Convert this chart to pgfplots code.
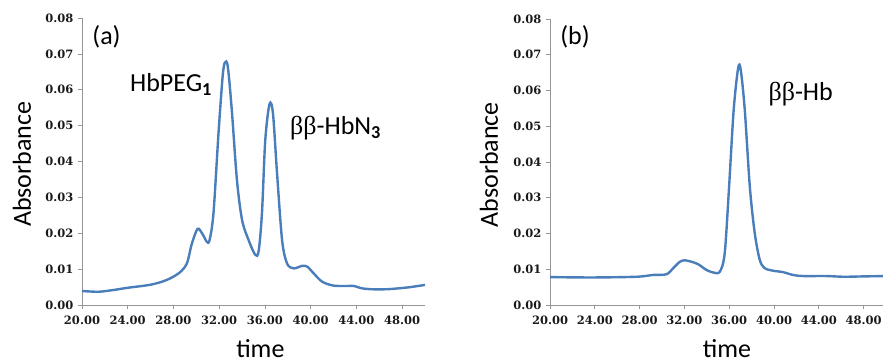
\documentclass[border=0pt]{standalone}
\usepackage{pgfplots}
\pgfplotsset{compat=1.18}
\usepackage{fontspec}
\setmainfont{Carlito}
\newfontfamily\tickfont{DejaVu Serif}
\newfontfamily\betafont{Liberation Serif}
\definecolor{lineblue}{RGB}{74,126,187}
\definecolor{axgray}{RGB}{150,150,150}
\tikzset{lbl/.style={font=\fontsize{26}{28}\selectfont}}

\pgfplotstableread{
x y
20.0 0.0039
21.5 0.0037
23.0 0.0043
24.0 0.0048
25.9 0.0056
27.1 0.0066
28.0 0.0079
28.7 0.0095
29.2 0.0118
29.6 0.0170
30.1 0.0212
30.5 0.0200
30.9 0.0177
31.15 0.0180
31.5 0.0256
31.94 0.0479
32.3 0.0637
32.5 0.0676
32.75 0.0665
33.1 0.0544
33.55 0.0349
34.0 0.0237
34.57 0.0181
35.15 0.0140
35.45 0.0150
35.74 0.0256
36.03 0.0460
36.4 0.0560
36.7 0.0535
37.06 0.0367
37.5 0.0181
37.93 0.0116
38.5 0.0102
39.25 0.0109
39.7 0.0107
40.27 0.0088
41.0 0.0065
42.0 0.0054
43.2 0.0053
43.8 0.0053
44.4 0.0047
45.25 0.0044
46.7 0.0044
48.5 0.0049
50.0 0.0056
}\dataA

\pgfplotstableread{
x y
20.0 0.0078
23.86 0.0077
27.73 0.0079
29.2 0.0084
30.4 0.0086
31.0 0.0103
31.6 0.0121
32.04 0.0125
32.63 0.0121
33.23 0.0114
33.97 0.0098
34.57 0.0091
35.16 0.0093
35.6 0.0145
35.99 0.0331
36.4 0.0546
36.8 0.0663
37.03 0.0658
37.39 0.0546
37.84 0.0331
38.28 0.0201
38.73 0.0126
39.17 0.0103
39.9 0.0096
40.8 0.0092
41.7 0.0084
42.6 0.0081
44.67 0.0081
46.2 0.0079
48.0 0.0080
50.0 0.0081
}\dataB

\pgfplotsset{
  panel/.style={
    scale only axis,
    xmin=20, xmax=50, ymin=0, ymax=0.08,
    axis x line*=bottom, axis y line*=left,
    axis line style={axgray, line width=0.7pt, -},
    xtick={20,24,...,48}, ytick={0,0.01,...,0.08},
    tick style={axgray, line width=0.7pt},
    tick align=outside, major tick length=4pt,
    xticklabel style={font=\tickfont\bfseries\fontsize{11.5}{13}\selectfont, text=black!90, yshift=-3pt},
    yticklabel style={font=\tickfont\bfseries\fontsize{11.5}{13}\selectfont, text=black!90, xshift=-1pt},
    xticklabel={\pgfmathprintnumber[fixed,fixed zerofill,precision=2]{\tick}},
    yticklabel={\pgfmathprintnumber[fixed,fixed zerofill,precision=2]{\tick}},
    /pgf/number format/assume math mode=true,
    scaled y ticks=false,
    clip=false,
  },
}

\begin{document}
\begin{tikzpicture}
\begin{axis}[panel, width=343pt, height=287pt, at={(0,0)}]
\addplot[lineblue, line width=2.4pt, smooth, tension=0.5] table[x=x,y=y]{\dataA};
\node[anchor=west, lbl] at (axis cs:20.6,0.0747) {(a)};
\node[anchor=base west, lbl] at (axis cs:23.9,0.0594) {HbPEG$_{\mathbf{1}}$};
\node[anchor=base west, lbl] at (axis cs:37.9,0.0474) {{\betafont ββ}-HbN$_{\mathbf{3}}$};
\node[lbl, xshift=-60pt, rotate=90] at (rel axis cs:0,0.49) {Absorbance};
\node[lbl, yshift=-44pt] at (rel axis cs:0.52,0) {time};
\end{axis}
\begin{axis}[panel, width=336pt, height=286pt, at={(468pt,0)}]
\addplot[lineblue, line width=2.4pt, smooth, tension=0.5] table[x=x,y=y]{\dataB};
\node[anchor=west, lbl] at (axis cs:20.6,0.075) {(b)};
\node[anchor=base west, lbl] at (axis cs:39.2,0.0573) {{\betafont ββ}-Hb};
\node[lbl, xshift=-61pt, rotate=90] at (rel axis cs:0,0.49) {Absorbance};
\node[lbl, yshift=-44pt] at (rel axis cs:0.527,0) {time};
\end{axis}
\pgfresetboundingbox
\useasboundingbox (-82pt,-58pt) rectangle (801pt,305pt);
\end{tikzpicture}
\end{document}
